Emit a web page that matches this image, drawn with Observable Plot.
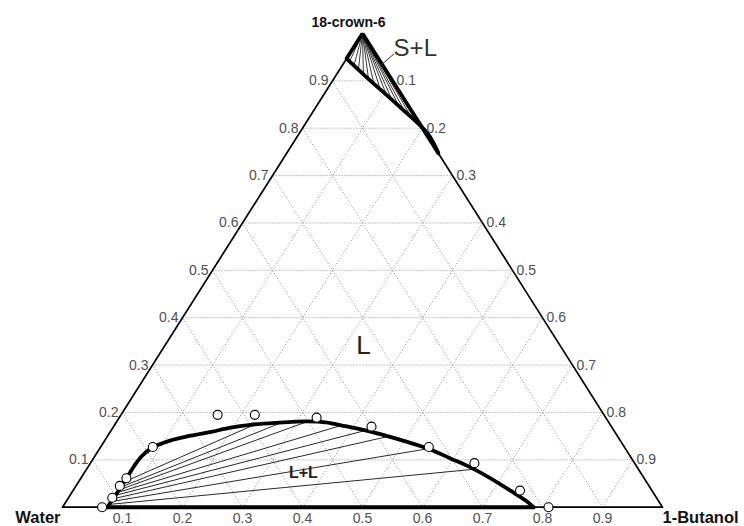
<!DOCTYPE html>
<html><head><meta charset="utf-8">
<script src="https://cdn.jsdelivr.net/npm/d3@7"></script>
<script src="https://cdn.jsdelivr.net/npm/@observablehq/plot@0.6"></script>
<style>body{margin:0;background:#fff;}</style>
</head><body><div id="chart"></div>
<script>
// compositions are [butanol fraction, crown fraction]; water = 1 - both
const vertexLabels = ["Water", "1-Butanol", "18-crown-6"];
const ticks = [0.1, 0.2, 0.3, 0.4, 0.5, 0.6, 0.7, 0.8, 0.9];
const tickLabels = ["0.1", "0.2", "0.3", "0.4", "0.5", "0.6", "0.7", "0.8", "0.9"];

const binodal = [
  [0.075, 0], [0.075, 0.012], [0.076, 0.028], [0.076, 0.045], [0.076, 0.063],
  [0.076, 0.086], [0.078, 0.107], [0.087, 0.126], [0.108, 0.140], [0.138, 0.151],
  [0.168, 0.159], [0.196, 0.168], [0.226, 0.174], [0.266, 0.178], [0.318, 0.181],
  [0.349, 0.179], [0.386, 0.171], [0.424, 0.162], [0.463, 0.151], [0.502, 0.139],
  [0.552, 0.122], [0.595, 0.103], [0.638, 0.084], [0.683, 0.061], [0.729, 0.035],
  [0.765, 0.014], [0.785, 0]
];
const baseLL = [[0.075, 0], [0.785, 0]];

const experimental = [
  [0.066, 0], [0.073, 0.020], [0.073, 0.045], [0.076, 0.061], [0.087, 0.127],
  [0.161, 0.195], [0.223, 0.195], [0.329, 0.189], [0.430, 0.170], [0.547, 0.127],
  [0.640, 0.093], [0.745, 0.035], [0.810, 0]
];

const tieLeft = [
  [0.076, 0.006], [0.076, 0.012], [0.076, 0.018], [0.076, 0.025],
  [0.076, 0.031], [0.077, 0.037], [0.077, 0.043], [0.077, 0.054]
];
const tieRight = [
  [0.645, 0.080], [0.550, 0.124], [0.467, 0.149], [0.424, 0.162],
  [0.377, 0.172], [0.318, 0.181], [0.275, 0.178], [0.234, 0.175]
];

const slCurve = [[0, 0.947], [0.054, 0.907], [0.141, 0.844], [0.214, 0.789], [0.253, 0.747]];
const slEdges = [[[0, 1], [0, 0.947]], [[0, 1], [0.253, 0.747]]];
const slTieEnds = [
  [0.008, 0.941], [0.020, 0.931], [0.032, 0.922], [0.045, 0.913], [0.058, 0.904],
  [0.072, 0.894], [0.088, 0.883], [0.105, 0.870], [0.120, 0.859], [0.138, 0.846],
  [0.155, 0.833], [0.172, 0.821], [0.190, 0.807], [0.208, 0.793], [0.225, 0.778],
  [0.240, 0.762]
];
const crownVertex = [0, 1];

const regionLabels = ["L", "L+L", "S+L"];
const regionPos = [[0.331, 0.341], [0.365, 0.073], [0.104, 0.968]];
const leader = [[0.074, 0.957], [0.064, 0.933]];

// ternary projection: x = butanol + crown/2, y = crown
const X = d => d[0] + d[1] / 2;
const Y = d => d[1];

const grid = [];
for (const k of ticks) {
  grid.push([[0, k], [1 - k, k]]);        // constant crown
  grid.push([[k, 0], [k, 1 - k]]);        // constant butanol
  grid.push([[1 - k, 0], [0, 1 - k]]);    // constant water
}
const triangle = [[0, 0], [1, 0], [0, 1], [0, 0]];
const tieLL = tieLeft.map((l, i) => [l, tieRight[i]]);
const tieSL = slTieEnds.map(e => [crownVertex, e]);
const regions = regionLabels.map((t, i) => ({t, p: regionPos[i]}));

const link = (data, opts) => Plot.link(data, {
  x1: d => X(d[0]), y1: d => Y(d[0]), x2: d => X(d[1]), y2: d => Y(d[1]), ...opts
});

const chart = Plot.plot({
  width: 744, height: 526, margin: 0,
  x: {domain: [0, 1], range: [62, 662], axis: null},
  y: {domain: [0, 1], range: [506.7, 33], axis: null},
  style: {fontFamily: "Liberation Sans, Arial, sans-serif", background: "white"},
  marks: [
    link(grid, {stroke: "#8a8a8a", strokeWidth: 1, strokeDasharray: "1,2"}),
    Plot.line(triangle, {x: X, y: Y, stroke: "#000", strokeWidth: 1.7}),
    link(tieLL, {stroke: "#2a2a2a", strokeWidth: 1}),
    link(tieSL, {stroke: "#222", strokeWidth: 0.9}),
    Plot.line(baseLL, {x: X, y: Y, stroke: "#000", strokeWidth: 4}),
    Plot.line(binodal, {x: X, y: Y, stroke: "#000", strokeWidth: 3.8, curve: "catmull-rom"}),
    Plot.line(slCurve, {x: X, y: Y, stroke: "#000", strokeWidth: 3.8, curve: "catmull-rom"}),
    link(slEdges, {stroke: "#000", strokeWidth: 3.8}),
    link([leader], {stroke: "#333", strokeWidth: 1}),
    Plot.dot(experimental, {x: X, y: Y, r: 4.5, fill: "white", stroke: "#000", strokeWidth: 1.1}),
    // tick labels
    Plot.text(ticks, {x: k => k / 2, y: k => k, text: (k, i) => tickLabels[i], textAnchor: "end", dx: -4, fontSize: 14, fill: "#505050"}),
    Plot.text(ticks, {x: k => k + (1 - k) / 2, y: k => 1 - k, text: (k, i) => tickLabels[i], textAnchor: "start", dx: 4, fontSize: 14, fill: "#505050"}),
    Plot.text(ticks, {x: k => k, y: 0, text: (k, i) => tickLabels[i], dy: 11, fontSize: 14, fill: "#505050"}),
    // vertex labels
    Plot.text([vertexLabels[0]], {x: 0, y: 0, text: d => d, textAnchor: "end", dx: -2, dy: 11, fontSize: 16.5, fontWeight: "bold", fill: "#111"}),
    Plot.text([vertexLabels[1]], {x: 1, y: 0, text: d => d, textAnchor: "start", dx: 0, dy: 11, fontSize: 16.5, fontWeight: "bold", fill: "#111"}),
    Plot.text([vertexLabels[2]], {x: 0.5, y: 1, text: d => d, dx: -14, dy: -11, fontSize: 14, fontWeight: "bold", fill: "#111"}),
    // region labels
    Plot.text(regions.slice(0, 1), {x: d => X(d.p), y: d => Y(d.p), text: "t", fontSize: 26, fill: "#222"}),
    Plot.text(regions.slice(1, 2), {x: d => X(d.p), y: d => Y(d.p), text: "t", fontSize: 16, fontWeight: "bold", fill: "#222"}),
    Plot.text(regions.slice(2, 3), {x: d => X(d.p), y: d => Y(d.p), text: "t", fontSize: 24, fill: "#333"})
  ]
});
document.getElementById("chart").appendChild(chart);
</script>
</body></html>
